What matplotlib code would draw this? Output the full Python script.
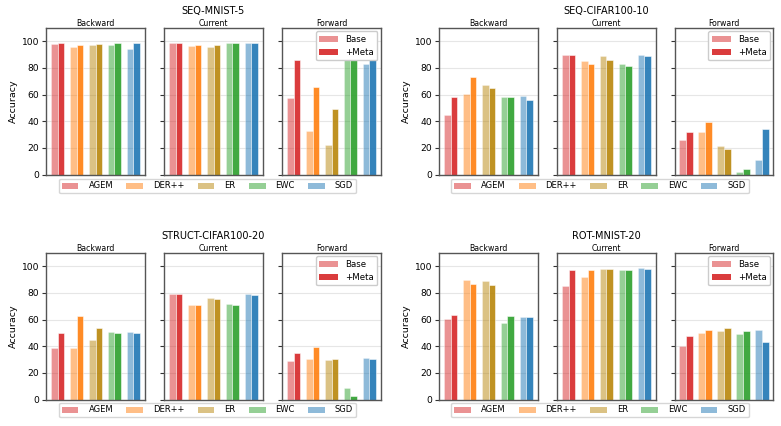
import numpy as np
import matplotlib
matplotlib.use("Agg")
import matplotlib.pyplot as plt
from matplotlib.patches import Patch

methods = ["AGEM", "DER++", "ER", "EWC", "SGD"]
colors = ["tab:red", "tab:orange", "darkgoldenrod", "tab:green", "tab:blue"]
metrics = ["Backward", "Current", "Forward"]
datasets = ["SEQ-MNIST-5", "SEQ-CIFAR100-10", "STRUCT-CIFAR100-20", "ROT-MNIST-20"]

# values per metric (Backward, Current, Forward), one entry per method
seq_mnist_base = [[97.7, 95.5, 97.2, 97.0, 93.7],
                  [98.5, 96.2, 95.7, 98.5, 98.7],
                  [57.4, 32.6, 22.0, 97.0, 82.7]]
seq_mnist_meta = [[98.5, 97.2, 97.7, 98.7, 98.7],
                  [98.5, 97.0, 97.0, 98.5, 98.7],
                  [86.2, 65.9, 49.4, 97.5, 86.5]]

seq_cifar_base = [[44.9, 60.2, 66.9, 57.9, 58.6],
                  [89.5, 85.0, 88.5, 83.2, 89.5],
                  [25.8, 31.6, 21.8, 1.8, 11.3]]
seq_cifar_meta = [[57.9, 73.4, 64.7, 58.4, 56.1],
                  [89.5, 82.7, 86.2, 81.2, 88.7],
                  [31.6, 39.6, 19.5, 4.5, 34.1]]

struct_cifar_base = [[38.4, 38.9, 44.4, 50.6, 50.6],
                     [79.0, 70.8, 76.0, 71.8, 79.0],
                     [28.9, 30.4, 29.4, 8.5, 31.2]]
struct_cifar_meta = [[50.1, 62.6, 53.4, 49.9, 49.9],
                     [79.0, 71.0, 75.0, 70.6, 78.0],
                     [34.7, 39.4, 30.7, 2.7, 30.4]]

rot_mnist_base = [[60.1, 89.5, 88.5, 57.1, 61.6],
                  [84.8, 91.5, 97.8, 96.8, 98.5],
                  [40.5, 50.0, 51.5, 49.0, 52.5]]
rot_mnist_meta = [[63.1, 86.5, 85.8, 62.8, 61.8],
                  [97.0, 97.0, 97.8, 97.0, 97.8],
                  [48.0, 52.5, 53.5, 51.5, 43.0]]

base_vals = [seq_mnist_base, seq_cifar_base, struct_cifar_base, rot_mnist_base]
meta_vals = [seq_mnist_meta, seq_cifar_meta, struct_cifar_meta, rot_mnist_meta]

W, H = 781, 426
fig = plt.figure(figsize=(W / 100, H / 100), dpi=100)

col_lefts = [[46.3, 164.3, 282.3], [439.3, 557.3, 675.0]]
row_tops = [27.7, 252.7]
ax_w, ax_h = 98.4, 147.0
x = np.arange(len(methods))
bw = 0.36

for d, name in enumerate(datasets):
    r, c = divmod(d, 2)
    for m, metric in enumerate(metrics):
        left = col_lefts[c][m]
        top = row_tops[r]
        ax = fig.add_axes([left / W, 1 - (top + ax_h) / H, ax_w / W, ax_h / H])
        for i in range(len(methods)):
            ax.bar(x[i] - bw / 2, base_vals[d][m][i], bw, color=colors[i],
                   alpha=0.5, edgecolor="white", linewidth=0.4, zorder=2)
            ax.bar(x[i] + bw / 2, meta_vals[d][m][i], bw, color=colors[i],
                   alpha=0.9, edgecolor="white", linewidth=0.4, zorder=2)
        ax.set_ylim(0, 110)
        ax.set_yticks([0, 20, 40, 60, 80, 100])
        ax.set_xticks([])
        ax.grid(axis="y", color="#e6e6e6", linewidth=0.8, zorder=0)
        ax.set_axisbelow(True)
        ax.set_title(metric, fontsize=5.6, pad=1.5)
        for s in ax.spines.values():
            s.set_color("#555555")
            s.set_linewidth(1.0)
        ax.tick_params(axis="y", length=3, width=0.8, labelsize=6.6, pad=2,
                       color="#333333")
        if m == 0:
            ax.set_ylabel("Accuracy", fontsize=6.8, labelpad=3)
        else:
            ax.tick_params(axis="y", labelleft=False)
        if m == 2:
            ax.legend([Patch(facecolor="tab:red", edgecolor="none", alpha=0.5),
                       Patch(facecolor="tab:red", edgecolor="none", alpha=0.9)],
                      ["Base", "+Meta"], loc="upper right", fontsize=6.2,
                      handlelength=2.2, borderaxespad=0.4, framealpha=1)

    # dataset title
    cx = (col_lefts[c][0] + col_lefts[c][2] + ax_w) / 2
    fig.text(cx / W, 1 - (row_tops[r] - 16.5) / H, name, ha="center",
             va="center", fontsize=7)

    # method legend below each panel
    handles = [Patch(facecolor=colors[i], edgecolor="none", alpha=0.5)
               for i in range(len(methods))]
    ly = 186 if r == 0 else 410
    lx = 207.5 if c == 0 else 600
    fig.legend(handles, methods, loc="center", ncol=5, fontsize=6,
               bbox_to_anchor=(lx / W, 1 - ly / H), handlelength=2.0,
               columnspacing=1.6, borderpad=0.35, handletextpad=1.2)

fig.savefig("out.png", dpi=100)
